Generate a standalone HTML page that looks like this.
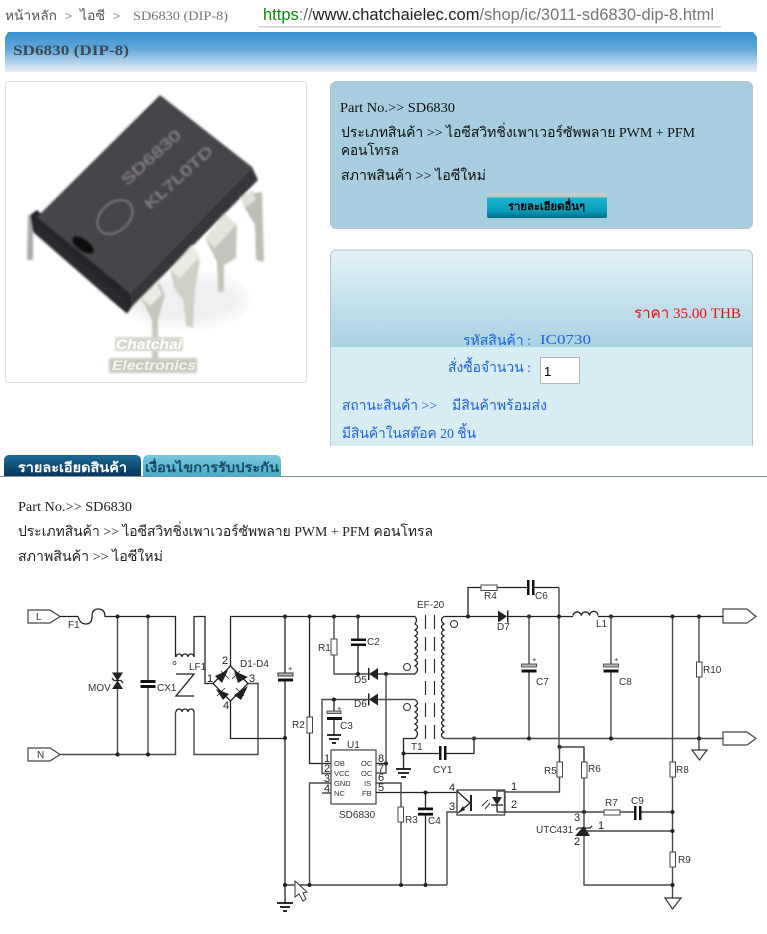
<!DOCTYPE html>
<html lang="th"><head><meta charset="utf-8"><title>SD6830 (DIP-8)</title>
<style>
html,body{margin:0;padding:0;background:#fff;width:767px;height:934px;overflow:hidden}
svg{display:block}
.s{font-family:"Liberation Serif","Noto Sans CJK SC",serif}
.a{font-family:"Liberation Sans","Noto Sans CJK SC",sans-serif}
.w{fill:none;stroke:#222;stroke-width:1.3}
.g{fill:none;stroke:#4a4a4a;stroke-width:1.4}
.l{font-family:"Liberation Sans",sans-serif;font-size:10px;fill:#333}
.p{font-family:"Liberation Sans",sans-serif;font-size:11px;fill:#222}
.i{font-family:"Liberation Sans",sans-serif;font-size:7.5px;fill:#333}
.r{fill:#fff;stroke:#444;stroke-width:1}
.d{fill:#222}
</style></head><body>
<svg width="767" height="934" viewBox="0 0 767 934" xmlns="http://www.w3.org/2000/svg">
<defs>
<linearGradient id="h" x1="0" y1="0" x2="0" y2="1"><stop offset="0" stop-color="#3b92d1"/><stop offset=".4" stop-color="#5ea5d8"/><stop offset="1" stop-color="#eaf0f9"/></linearGradient>
<linearGradient id="p2" x1="0" y1="0" x2="0" y2="1"><stop offset="0" stop-color="#e4f2f8"/><stop offset="1" stop-color="#a9d2e2"/></linearGradient>
<linearGradient id="b" x1="0" y1="0" x2="0" y2="1"><stop offset="0" stop-color="#c8ced0"/><stop offset=".15" stop-color="#c0c8ca"/><stop offset=".2" stop-color="#19b5d2"/><stop offset=".7" stop-color="#0a9dbc"/><stop offset="1" stop-color="#076c8a"/></linearGradient>
<linearGradient id="t1" x1="0" y1="0" x2="0" y2="1"><stop offset="0" stop-color="#1d6a96"/><stop offset="1" stop-color="#06365f"/></linearGradient>
<linearGradient id="t2" x1="0" y1="0" x2="0" y2="1"><stop offset="0" stop-color="#7cc8dc"/><stop offset="1" stop-color="#44aecd"/></linearGradient>
<filter id="bl" x="-10%" y="-10%" width="120%" height="120%"><feGaussianBlur stdDeviation="1"/></filter>
<filter id="bl2" x="-30%" y="-30%" width="160%" height="160%"><feGaussianBlur stdDeviation="6"/></filter>
</defs>

<!-- top breadcrumb + url -->
<text class="a" x="5" y="20" font-size="13" fill="#555" textLength="52" lengthAdjust="spacingAndGlyphs">หน้าหลัก</text>
<text class="a" x="65" y="20" font-size="12" fill="#888">&gt;</text>
<text class="a" x="80" y="20" font-size="13" fill="#555" textLength="25" lengthAdjust="spacingAndGlyphs">ไอซี</text>
<text class="a" x="113" y="20" font-size="12" fill="#888">&gt;</text>
<text class="s" x="133" y="20" font-size="12.5" fill="#777" textLength="95" lengthAdjust="spacingAndGlyphs">SD6830 (DIP-8)</text>
<text class="a" x="263" y="20" font-size="16.5" textLength="451" lengthAdjust="spacingAndGlyphs"><tspan fill="#0a8a0a">https</tspan><tspan fill="#888">:</tspan><tspan fill="#666">//</tspan><tspan fill="#222">www.chatchaielec.com</tspan><tspan fill="#777">/shop/ic/3011-sd6830-dip-8.html</tspan></text>
<rect x="259" y="26" width="462" height="1.500" fill="#d0d0d0"/>

<!-- title bar -->
<path d="M8 32H753L757 37V72H5V37Z" fill="url(#h)"/>
<text class="s" x="13" y="55" font-size="15" font-weight="bold" fill="#3d4a55" textLength="116" lengthAdjust="spacingAndGlyphs">SD6830 (DIP-8)</text>

<!-- image frame -->
<rect x="5.500" y="81.500" width="301" height="301" rx="3" fill="#fff" stroke="#dedede"/>
<g filter="url(#bl)">
<ellipse cx="185" cy="300" rx="60" ry="25" fill="#f0f0f0" filter="url(#bl2)"/>
<polygon points="28,215 27,260 33,260 33,215" fill="#aaa"/>
<polygon points="240,195 262,192 264,262 256,260 255,225 245,208" fill="#bdbeb6"/>
<polygon points="205,238 225,215 237,225 236,258 224,265 224,292 218,292 217,262" fill="#c4c4bc"/>
<polygon points="170,270 192,245 200,262 195,290 193,328 186,326 183,300 175,290" fill="#d0d0c8"/>
<polygon points="142,300 160,283 165,295 158,320 158,358 152,358 152,320" fill="#c6c6be"/>
<polygon points="30,215 37,210 130,293 133,306 127,314 33,232" fill="#262529"/>
<polygon points="130,293 252,167 258,180 133,306" fill="#38353a"/>
<polygon points="160,95 252,167 130,293 37,217" fill="#47444a"/>
<polygon points="40,226 125,300 128,312 34,232" fill="#2b2a2e"/>
<ellipse cx="83" cy="245" rx="13" ry="6" fill="#111" transform="rotate(35 83 245)"/>
<ellipse cx="115" cy="217" rx="20" ry="14" fill="none" stroke="#807d84" stroke-width="1.500" transform="rotate(-42 115 217)"/>
<text x="127" y="186" font-family="Liberation Sans" font-size="15" fill="#8a868e" transform="rotate(-42 127 186)" textLength="74" lengthAdjust="spacingAndGlyphs">SD6830</text>
<text x="150" y="210" font-family="Liberation Sans" font-size="15" fill="#8a868e" transform="rotate(-42 150 210)" textLength="86" lengthAdjust="spacingAndGlyphs">KL7L0TD</text>
<polygon points="240,198 252,190 256,200 246,207" fill="#e0e0dc"/>
<polygon points="205,238 225,213 236,225 215,248" fill="#e4e4dc"/>
<polygon points="170,270 192,245 200,256 180,278" fill="#ececE4"/>
<polygon points="142,298 156,283 162,294 150,306" fill="#ececE4"/>
<rect x="115" y="337" width="68" height="14" fill="#d8d8d0"/>
<rect x="109" y="358" width="88" height="15" rx="2" fill="#c9c9bf"/>
</g>
<text class="a" x="116" y="349" font-size="14" font-style="italic" font-weight="bold" fill="#fff" textLength="66" lengthAdjust="spacingAndGlyphs">Chatchai</text>
<text class="a" x="112" y="370" font-size="14" font-style="italic" font-weight="bold" fill="#f4f4f0" textLength="84" lengthAdjust="spacingAndGlyphs">Electronics</text>

<!-- panel 1 -->
<rect x="330.500" y="81.500" width="422" height="147" rx="6" fill="#a6cedf" stroke="#b4c4cb"/>
<text class="s" x="340" y="112" font-size="14" fill="#111" textLength="115" lengthAdjust="spacingAndGlyphs">Part No.&gt;&gt; SD6830</text>
<text class="s" x="341" y="137" font-size="14" fill="#111" textLength="354" lengthAdjust="spacingAndGlyphs">ประเภทสินค้า &gt;&gt; ไอซีสวิทชิ่งเพาเวอร์ซัพพลาย PWM + PFM</text>
<text class="s" x="341" y="155" font-size="14" fill="#111" textLength="58" lengthAdjust="spacingAndGlyphs">คอนโทรล</text>
<text class="s" x="341" y="180" font-size="14" fill="#111" textLength="145" lengthAdjust="spacingAndGlyphs">สภาพสินค้า &gt;&gt;  ไอซีใหม่</text>
<rect x="487" y="193" width="120" height="25" rx="2" fill="url(#b)"/>
<text class="a" x="508" y="210" font-size="11" font-weight="bold" fill="#000" textLength="77" lengthAdjust="spacingAndGlyphs">รายละเอียดอื่นๆ</text>

<!-- panel 2 -->
<path d="M330.500 446V256a6 6 0 0 1 6-6H746a6 6 0 0 1 6.500 6V446" fill="#d8ecf3" stroke="#b4c4cb"/>
<path d="M331 347V256a5.500 5.500 0 0 1 5.500-5.500H746a6 6 0 0 1 6 6V347Z" fill="url(#p2)"/>
<text class="s" x="634" y="318" font-size="15" fill="#e81010" textLength="107" lengthAdjust="spacingAndGlyphs">ราคา 35.00 THB</text>
<text class="s" x="463" y="345" font-size="14" fill="#1f63e0" textLength="68" lengthAdjust="spacingAndGlyphs">รหัสสินค้า :</text>
<text class="s" x="540" y="344" font-size="14" fill="#1f63e0" textLength="51" lengthAdjust="spacingAndGlyphs">IC0730</text>
<text class="s" x="448" y="372" font-size="14" fill="#1f63e0" textLength="83" lengthAdjust="spacingAndGlyphs">สั่งซื้อจำนวน :</text>
<rect x="540.500" y="357.500" width="39" height="26" fill="#fff" stroke="#b5b5b5"/>
<text class="a" x="544" y="376" font-size="13" fill="#000">1</text>
<text class="s" x="342" y="410" font-size="14" fill="#1f63e0" textLength="95" lengthAdjust="spacingAndGlyphs">สถานะสินค้า &gt;&gt;</text>
<text class="s" x="452" y="410" font-size="14" fill="#1f63e0" textLength="95" lengthAdjust="spacingAndGlyphs">มีสินค้าพร้อมส่ง</text>
<text class="s" x="342" y="438" font-size="14" fill="#1f63e0" textLength="134" lengthAdjust="spacingAndGlyphs">มีสินค้าในสต๊อค 20 ชิ้น</text>

<!-- tabs -->
<path d="M4 476V460a5 5 0 0 1 5-5H136a5 5 0 0 1 5 5V476Z" fill="url(#t1)"/>
<path d="M143 476V460a5 5 0 0 1 5-5H276a5 5 0 0 1 5 5V476Z" fill="url(#t2)"/>
<rect x="0" y="476" width="767" height="1" fill="#8595a0"/>
<text class="a" x="18" y="472" font-size="13" font-weight="bold" fill="#fff" textLength="109" lengthAdjust="spacingAndGlyphs">รายละเอียดสินค้า</text>
<text class="a" x="145" y="472" font-size="13" font-weight="bold" fill="#204a60" textLength="134" lengthAdjust="spacingAndGlyphs">เงื่อนไขการรับประกัน</text>

<!-- description -->
<text class="s" x="18" y="511" font-size="14" fill="#222" textLength="114" lengthAdjust="spacingAndGlyphs">Part No.&gt;&gt; SD6830</text>
<text class="s" x="18" y="536" font-size="14" fill="#222" textLength="415" lengthAdjust="spacingAndGlyphs">ประเภทสินค้า &gt;&gt; ไอซีสวิทชิ่งเพาเวอร์ซัพพลาย PWM + PFM คอนโทรล</text>
<text class="s" x="18" y="561" font-size="14" fill="#222" textLength="145" lengthAdjust="spacingAndGlyphs">สภาพสินค้า &gt;&gt;  ไอซีใหม่</text>

<!-- ============ circuit ============ -->
<!-- terminals -->
<g fill="#fff" stroke="#444" stroke-width="1.200">
<polygon points="28,610 50,610 60,616.500 50,623 28,623"/>
<polygon points="28,748 50,748 60,754.500 50,761 28,761"/>
<polygon points="723,609 747,609 756,616.500 747,623 723,623"/>
<polygon points="723,732 747,732 756,738.500 747,745 723,745"/>
</g>
<text class="l" x="36" y="620">L</text>
<text class="l" x="37" y="758">N</text>

<!-- mains wires -->
<path class="w" d="M60 616.500H78M78 616.500Q80 624 86 624Q92 624 92 616.500Q92 609 98 609Q105 609 105 616.500H175.500V657"/>
<path class="w" d="M176 657a3 3 0 0 1 6 0a3 3 0 0 1 6 0a3 3 0 0 1 6 0"/>
<path class="w" d="M194 657V616.500H205V683.500H213"/>
<path class="g" d="M60 754.500H175.500V712"/>
<path class="w" d="M176 712a3 3 0 0 1 6 0a3 3 0 0 1 6 0a3 3 0 0 1 6 0"/>
<path class="g" d="M194 712V754.500H258V683.500H248"/>
<circle cx="174.500" cy="663" r="1.500" fill="#fff" stroke="#333" stroke-width=".7"/>
<path class="w" d="M176 674H194L176 696H194"/>
<path class="g" d="M117.500 616.500V754.500M148 616.500V754.500"/>
<circle class="d" cx="117.500" cy="616.500" r="2"/><circle class="d" cx="148" cy="616.500" r="2"/>
<circle class="d" cx="117.500" cy="754.500" r="2"/><circle class="d" cx="148" cy="754.500" r="2"/>
<!-- MOV -->
<polygon class="d" points="112,672.500 123,672.500 117.500,681"/><polygon class="d" points="112,689 123,689 117.500,680.500"/>
<path class="w" d="M112 678L114 680.500H121L123 683"/>
<!-- CX1 -->
<rect x="140.500" y="680" width="15" height="3" fill="#111"/><rect x="140.500" y="685" width="15" height="3" fill="#111"/>
<rect x="146" y="683" width="4" height="2" fill="#fff"/>
<!-- bridge -->
<path class="w" d="M213 683.500L230.500 666L248 683.500L230.500 701Z"/>
<polygon class="d" points="215,676 228,670 222,683"/>
<polygon class="d" points="234,671 248,677 238,683"/>
<polygon class="d" points="216,689 229,694 223,700"/>
<polygon class="d" points="234,695 248,686 241,700"/>
<path d="M221 671L229 679M240 671L232 679M217 696L225 688M244 696L236 688" stroke="#222" stroke-width=".8" fill="none"/>
<path class="w" d="M230.500 666V616.500H415M230.500 701V738.500H285"/>
<!-- main vertical 285 -->
<path class="w" d="M285 616.500V675M285 680V903"/>
<rect x="278" y="673" width="15" height="3" fill="#bbb" stroke="#333"/><rect x="278" y="678.500" width="15" height="3" fill="#111"/>
<text class="i" x="288" y="671">+</text>
<circle class="d" cx="285" cy="616.500" r="2"/><circle class="d" cx="285" cy="738" r="2"/><circle class="d" cx="285" cy="885" r="2"/>
<path d="M277 903H293M280 907H290M283 911H287" stroke="#111" stroke-width="1.800" fill="none"/>
<!-- R2, R1, C2 -->
<path class="w" d="M309.500 616.500V763.500H331"/>
<rect class="r" x="307" y="717" width="5.500" height="16"/>
<circle class="d" cx="309.500" cy="616.500" r="2"/>
<path class="g" d="M334 616.500V674H369"/>
<rect class="r" x="331" y="639" width="6" height="16"/>
<circle class="d" cx="334" cy="616.500" r="2"/>
<path class="w" d="M358 616.500V674"/>
<rect x="351" y="638.500" width="15" height="2.500" fill="#111"/><rect x="351" y="643.500" width="15" height="2.500" fill="#111"/>
<rect x="356" y="641" width="4" height="2.500" fill="#fff"/>
<circle class="d" cx="358" cy="616.500" r="2"/><circle class="d" cx="358" cy="674" r="2"/>
<!-- D5, D6 -->
<polygon class="d" points="369,674 378,668 378,680"/><rect x="368" y="668" width="1.500" height="12" fill="#222"/>
<path class="w" d="M378 674H415"/>
<circle class="d" cx="386" cy="674" r="2"/>
<path class="g" d="M386 674V773H376"/>
<circle class="d" cx="386" cy="763.500" r="2"/>
<path class="w" d="M376 763.500H386"/>
<polygon class="d" points="369,699.500 378,693.500 378,705.500"/><rect x="368" y="693.500" width="1.500" height="12" fill="#222"/>
<path class="g" d="M415 699.500H378M369 699.500H322V773.500H331"/>
<circle class="d" cx="334" cy="699.500" r="2"/>
<!-- C3 -->
<path class="w" d="M334 699.500V712M334 718V735"/>
<rect x="327" y="711" width="14" height="2.500" fill="#bbb" stroke="#333" stroke-width=".8"/><rect x="327" y="717" width="15" height="3" fill="#111"/>
<text class="i" x="337" y="711">+</text>
<path d="M327 735H341M329 739H339M332 743H336" stroke="#111" stroke-width="1.800" fill="none"/>
<!-- transformer -->
<path class="w" d="M415 616.500Q418 620 415 624Q420 627 415 630Q420 633 415 636Q420 639 415 642Q420 645 415 648Q420 651 415 654Q420 657 415 660Q420 663 415 666Q420 669 415 674"/>
<path class="w" d="M415 699.500Q420 703 415 706Q420 709 415 712Q420 715 415 718Q420 721 415 724Q420 727 415 730Q420 733 415 738.500H403.500V769"/>
<path d="M425.500 615V740M434.500 615V740" stroke="#333" stroke-width="1.200" stroke-dasharray="14 8" fill="none"/>
<path class="w" d="M444 616.500Q439 620 444 624Q439 627 444 630Q439 633 444 636Q439 639 444 642Q439 645 444 648Q439 651 444 654Q439 657 444 660Q439 663 444 666Q439 669 444 672Q439 675 444 678Q439 681 444 684Q439 687 444 690Q439 693 444 696Q439 699 444 702Q439 705 444 708Q439 711 444 714Q439 717 444 720Q439 723 444 726Q439 729 444 732Q439 735 444 738.500"/>
<circle cx="454" cy="624" r="3.500" fill="none" stroke="#333"/>
<circle cx="407" cy="667" r="3.500" fill="none" stroke="#333"/>
<circle cx="407" cy="707" r="3.500" fill="none" stroke="#333"/>
<path d="M396 769H411M398 773H409M401 777H406" stroke="#111" stroke-width="1.800" fill="none"/>
<circle class="d" cx="403.500" cy="753.500" r="2"/>
<path class="w" d="M403.500 753.500H439M445 753.500H474V738.500"/>
<rect x="439" y="746" width="2.500" height="14" fill="#111"/><rect x="444" y="746" width="2.500" height="14" fill="#111"/>
<rect x="441.500" y="751" width="2.500" height="4" fill="#fff"/>
<circle class="d" cx="474" cy="738.500" r="2"/>
<!-- secondary -->
<path class="w" d="M444 616.500H498M507 616.500H573"/>
<polygon class="d" points="498,610.500 507,616.500 498,622.500"/><rect x="507" y="610.500" width="1.500" height="12" fill="#222"/>
<circle class="d" cx="468" cy="616.500" r="2"/>
<path class="w" d="M468 616.500V587.500H481M497 587.500H528M533 587.500H559"/>
<path class="g" d="M559 587.500V747"/>
<rect class="r" x="481" y="585" width="16" height="5.500"/>
<rect x="527" y="580" width="2.500" height="15" fill="#111"/><rect x="532" y="580" width="2.500" height="15" fill="#111"/>
<rect x="529.500" y="585" width="2.500" height="4" fill="#fff"/>
<circle class="d" cx="529" cy="616.500" r="2"/><circle class="d" cx="559" cy="616.500" r="2"/>
<path class="g" d="M529 616.500V665M529 670V738.500"/>
<rect x="521.500" y="664" width="15" height="3" fill="#bbb" stroke="#333" stroke-width=".8"/><rect x="521.500" y="669.500" width="15" height="3" fill="#111"/>
<text class="i" x="532" y="662">+</text>
<path class="w" d="M573 615.500a4.200 4.200 0 0 1 8.300 0a4.200 4.200 0 0 1 8.300 0a4.200 4.200 0 0 1 8.400 0"/>
<path class="w" d="M598 616.500H723"/>
<circle class="d" cx="611" cy="616.500" r="2"/>
<path class="g" d="M611 616.500V665M611 670V738.500"/>
<rect x="603.500" y="664" width="15" height="3" fill="#bbb" stroke="#333" stroke-width=".8"/><rect x="603.500" y="669.500" width="15" height="3" fill="#111"/>
<text class="i" x="614" y="662">+</text>
<path class="g" d="M444 738.500H723"/>
<circle class="d" cx="529" cy="738.500" r="2"/><circle class="d" cx="611" cy="738.500" r="2"/>
<path class="g" d="M672.500 616.500V762M699 616.500V662M699 677V738.500"/>
<circle class="d" cx="672.500" cy="616.500" r="2"/><circle class="d" cx="699" cy="616.500" r="2"/><circle class="d" cx="699" cy="738.500" r="2"/>
<rect class="r" x="696.500" y="662" width="5.500" height="15"/>
<path class="g" d="M699 738.500V750"/>
<polygon points="692,750 707,750 699.500,760" fill="#fff" stroke="#333" stroke-width="1.200"/>
<!-- R5 R6 -->
<circle class="d" cx="559.500" cy="747" r="2"/>
<path class="w" d="M559.500 747H584V762"/>
<path class="g" d="M559.500 747V792H505"/>
<rect class="r" x="557" y="762" width="5.500" height="15"/>
<path class="g" d="M584 778V812"/>
<rect class="r" x="581.500" y="762" width="5.500" height="16"/>
<!-- IC -->
<rect x="331" y="750" width="45" height="54" fill="#fff" stroke="#444" stroke-width="1.200"/>
<path class="g" d="M331 783H309.500V885"/>
<path class="w" d="M322 793H331M376 792.500H457"/>
<path class="g" d="M376 783H401V807M401 822V885"/>
<rect class="r" x="398" y="807" width="5.500" height="15"/>
<circle class="d" cx="425.500" cy="792.500" r="2"/>
<path class="w" d="M425.500 792.500V808M425.500 814V885"/>
<rect x="418" y="807.500" width="15" height="2.800" fill="#111"/><rect x="418" y="812.800" width="15" height="2.800" fill="#111"/>
<rect x="423.500" y="810.300" width="4" height="2.500" fill="#fff"/>
<path class="w" d="M285 885H447"/>
<path class="g" d="M447 885V812H457"/>
<circle class="d" cx="309.500" cy="885" r="2"/><circle class="d" cx="401" cy="885" r="2"/><circle class="d" cx="425.500" cy="885" r="2"/>
<text class="i" x="334" y="766">OB</text><text class="i" x="334" y="776">VCC</text><text class="i" x="334" y="786">GND</text><text class="i" x="334" y="796">NC</text>
<text class="i" x="361" y="766">OC</text><text class="i" x="361" y="776">OC</text><text class="i" x="364" y="786">IS</text><text class="i" x="362" y="796">FB</text>
<text class="p" x="324" y="762" font-size="10">1</text><text class="p" x="324" y="772" font-size="10">2</text><text class="p" x="324" y="782" font-size="10">3</text><text class="p" x="324" y="792" font-size="10">4</text>
<text class="p" x="378" y="762" font-size="10">8</text><text class="p" x="378" y="772" font-size="10">7</text><text class="p" x="378" y="781" font-size="10">6</text><text class="p" x="378" y="791" font-size="10">5</text>
<!-- opto -->
<rect x="457" y="790" width="47.500" height="25" fill="#fff" stroke="#555" stroke-width="1.500"/>
<rect x="470" y="795" width="2" height="16" fill="#222"/>
<path class="w" d="M457 791L470 803L458 813"/>
<polygon class="d" points="458,813 463,806 465,810"/>
<polygon class="d" points="492,797 502,797 497,805"/>
<path class="w" d="M491 805H503M497 805V812M497 797V791"/>
<path class="g" d="M497 791H505V812H497"/>
<path d="M482 806L488 800M485 809L490 803" stroke="#333" stroke-width="1" fill="none"/>
<path class="w" d="M505 812H604M620 812H634M640 812H673"/>
<text class="p" x="449" y="791">4</text><text class="p" x="449" y="810">3</text>
<text class="p" x="511" y="790">1</text><text class="p" x="511" y="808">2</text>
<!-- R7 C9 -->
<circle class="d" cx="584" cy="812" r="2"/>
<rect class="r" x="604" y="810" width="16" height="5"/>
<rect x="634" y="806" width="2.500" height="14" fill="#111"/><rect x="639" y="806" width="2.500" height="14" fill="#111"/>
<rect x="636.500" y="811" width="2.500" height="4" fill="#fff"/>
<!-- UTC431 -->
<path class="g" d="M584 812V885H672.500"/>
<polygon class="d" points="575,836 590,836 584,826"/>
<path d="M576 830L578 828H590L592 826" stroke="#222" stroke-width="1.200" fill="none"/>
<path class="w" d="M586 831H672.500"/>
<!-- R8/R9 -->
<rect class="r" x="670" y="762" width="5.500" height="15"/>
<path class="g" d="M672.500 777V852M672.500 867V898"/>
<rect class="r" x="670" y="852" width="5.500" height="15"/>
<circle class="d" cx="672.500" cy="812" r="2"/><circle class="d" cx="672.500" cy="831" r="2"/><circle class="d" cx="672.500" cy="885" r="2"/>
<polygon points="665,898 681,898 672.500,909" fill="#fff" stroke="#333" stroke-width="1.200"/>
<!-- cursor -->
<polygon points="295,881 295,897 299,894 303,901 306,899 303,893 307,892" fill="#fff" stroke="#333" stroke-width="1"/>
<!-- labels -->
<text class="l" x="68" y="628">F1</text>
<text class="l" x="88" y="691">MOV</text>
<text class="l" x="157" y="691">CX1</text>
<text class="l" x="189" y="670">LF1</text>
<text class="l" x="240" y="667">D1-D4</text>
<text class="p" x="222" y="664">2</text><text class="p" x="207" y="682">1</text><text class="p" x="249" y="682">3</text><text class="p" x="223" y="709">4</text>
<text class="l" x="292" y="728">R2</text>
<text class="l" x="318" y="651">R1</text>
<text class="l" x="367" y="645">C2</text>
<text class="l" x="354" y="683">D5</text>
<text class="l" x="354" y="707">D6</text>
<text class="l" x="340" y="729">C3</text>
<text class="l" x="347" y="748">U1</text>
<text class="l" x="339" y="818">SD6830</text>
<text class="l" x="417" y="608">EF-20</text>
<text class="l" x="411" y="750">T1</text>
<text class="l" x="433" y="773">CY1</text>
<text class="l" x="484" y="599">R4</text>
<text class="l" x="535" y="599">C6</text>
<text class="l" x="497" y="630">D7</text>
<text class="l" x="536" y="685">C7</text>
<text class="l" x="596" y="627">L1</text>
<text class="l" x="619" y="685">C8</text>
<text class="l" x="703" y="673">R10</text>
<text class="l" x="544" y="774">R5</text>
<text class="l" x="588" y="772">R6</text>
<text class="l" x="676" y="773">R8</text>
<text class="l" x="405" y="823">R3</text>
<text class="l" x="428" y="824">C4</text>
<text class="l" x="605" y="806">R7</text>
<text class="l" x="631" y="804">C9</text>
<text class="l" x="536" y="833">UTC431</text>
<text class="l" x="678" y="863">R9</text>
<text class="p" x="574" y="821">3</text><text class="p" x="574" y="845">2</text><text class="p" x="598" y="829">1</text>
</svg>
</body></html>
